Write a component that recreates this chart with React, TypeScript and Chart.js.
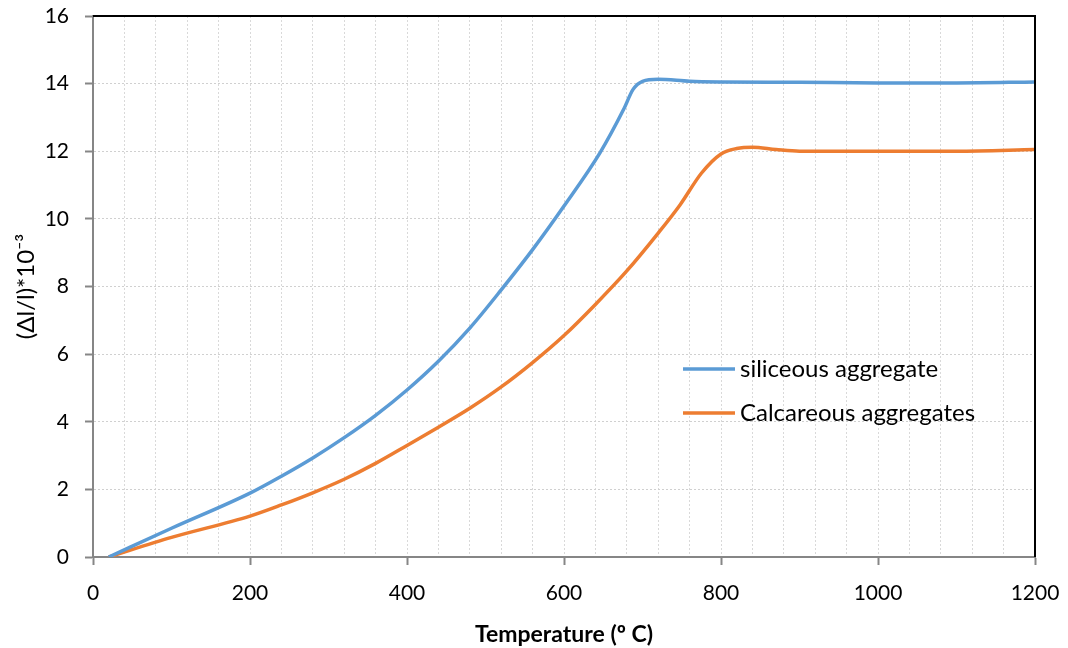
import React, { useEffect, useRef } from "react";
import { Chart, registerables } from "chart.js";

Chart.register(...registerables);

const siliceousT = [20, 100, 200, 240, 280, 320, 360, 400, 440, 480, 520, 560, 600, 646, 676, 688, 700, 720, 760, 800, 900, 1000, 1100, 1200];
const siliceousV = [0, 0.85, 1.89, 2.39, 2.93, 3.53, 4.19, 4.94, 5.79, 6.77, 7.9, 9.09, 10.38, 11.96, 13.24, 13.83, 14.07, 14.13, 14.07, 14.05, 14.04, 14.02, 14.02, 14.05];

const calcareousT = [20, 100, 200, 240, 280, 320, 360, 400, 440, 480, 520, 560, 600, 640, 680, 720, 748, 775, 800, 820, 840, 870, 900, 1000, 1100, 1200];
const calcareousV = [0, 0.58, 1.21, 1.54, 1.9, 2.3, 2.77, 3.3, 3.84, 4.4, 5.03, 5.75, 6.55, 7.47, 8.46, 9.58, 10.42, 11.35, 11.92, 12.08, 12.12, 12.05, 12.0, 12.0, 12.0, 12.05];

const seriesNames = ["siliceous aggregate", "Calcareous aggregates"];
const seriesColors = ["#5B9BD5", "#ED7D31"];

const xTitle = "Temperature (º C)";
const yTitle = "(Δl/l)*10⁻³";
const FONT = "Lato, 'Open Sans', sans-serif";

export default function App() {
  const ref = useRef<HTMLCanvasElement | null>(null);

  useEffect(() => {
    document.body.style.margin = "0";
    const canvas = ref.current!;
    const framePlugin = {
      id: "frame",
      afterDatasetsDraw(chart: any) {
        const { ctx, chartArea } = chart;
        ctx.save();
        ctx.strokeStyle = "#000";
        ctx.lineWidth = 2;
        ctx.beginPath();
        ctx.moveTo(chartArea.left, chartArea.top);
        ctx.lineTo(chartArea.right, chartArea.top);
        ctx.lineTo(chartArea.right, chartArea.bottom);
        ctx.stroke();
        // legend
        const lx = chartArea.left + 590;
        const ys = [chartArea.top + 353, chartArea.top + 397];
        ctx.font = `24px ${FONT}`;
        ctx.textBaseline = "middle";
        ctx.textAlign = "left";
        seriesNames.forEach((n, i) => {
          ctx.strokeStyle = seriesColors[i];
          ctx.lineWidth = 3.5;
          ctx.beginPath();
          ctx.moveTo(lx, ys[i]);
          ctx.lineTo(lx + 52, ys[i]);
          ctx.stroke();
          ctx.fillStyle = "#000";
          ctx.fillText(n, lx + 57, ys[i]);
        });
        ctx.restore();
      },
    };

    const chart = new Chart(canvas, {
      type: "line",
      data: {
        datasets: [
          {
            label: seriesNames[0],
            data: siliceousT.map((t, i) => ({ x: t, y: siliceousV[i] })),
            borderColor: seriesColors[0],
            borderWidth: 3.5,
            pointRadius: 0,
            cubicInterpolationMode: "monotone",
            fill: false,
          },
          {
            label: seriesNames[1],
            data: calcareousT.map((t, i) => ({ x: t, y: calcareousV[i] })),
            borderColor: seriesColors[1],
            borderWidth: 3.5,
            pointRadius: 0,
            cubicInterpolationMode: "monotone",
            fill: false,
          },
        ],
      },
      options: {
        animation: false,
        responsive: false,
        layout: { padding: { left: 0, top: 16, right: 33, bottom: 0 } },
        plugins: { legend: { display: false }, tooltip: { enabled: false } },
        scales: {
          x: {
            type: "linear",
            min: 0,
            max: 1200,
            afterFit: (s: any) => {
              s.height = 91;
              s.paddingLeft = 0;
              s.paddingRight = 0;
            },
            ticks: {
              stepSize: 40,
              autoSkip: false,
              maxRotation: 0,
              padding: 16,
              color: "#000",
              font: { family: FONT, size: 21 },
              callback: (v: any) => (Number(v) % 200 === 0 ? String(v) : ""),
            },
            grid: {
              color: "#d9d9d9",
              lineWidth: 1,
              tickLength: 8,
              tickColor: (c: any) => (c.tick && c.tick.value % 200 === 0 ? "#868686" : "rgba(0,0,0,0)"),
              tickWidth: 2,
            },
            border: { color: "#868686", width: 2, dash: [2, 2] },
            title: {
              display: true,
              text: xTitle,
              color: "#000",
              font: { family: FONT, size: 23, weight: "bold" },
              padding: { top: 2, bottom: 0 },
            },
          },
          y: {
            min: 0,
            max: 16,
            afterFit: (s: any) => {
              s.width = 93;
              s.paddingTop = 0;
              s.paddingBottom = 0;
            },
            ticks: {
              stepSize: 2,
              padding: 16,
              color: "#000",
              font: { family: FONT, size: 21 },
            },
            grid: {
              color: "#d0d0d0",
              lineWidth: 1,
              tickLength: 8,
              tickColor: "#868686",
              tickWidth: 2,
            },
            border: { color: "#868686", width: 2, dash: [2, 2] },
            title: {
              display: true,
              text: yTitle,
              color: "#000",
              font: { family: FONT, size: 24 },
              padding: { top: 12, bottom: 0 },
            },
          },
        },
      },
      plugins: [framePlugin],
    } as any);
    return () => chart.destroy();
  }, []);

  return (
    <div style={{ position: "absolute", left: 0, top: 0, width: 1068, height: 648, background: "#fff" }}>
      <canvas ref={ref} width={1068} height={648} />
    </div>
  );
}
